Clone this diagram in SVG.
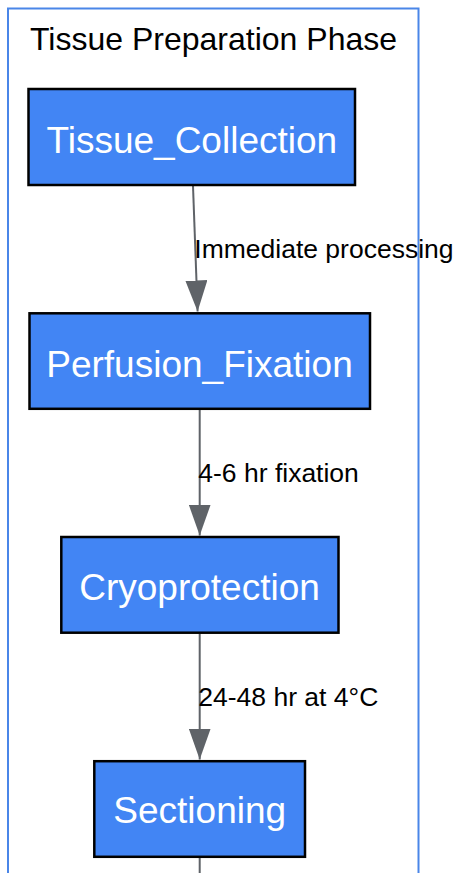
<svg xmlns="http://www.w3.org/2000/svg" width="457" height="873" viewBox="0 0 457 873">
<style>
.cluster{fill:#ffffff;stroke:#4a86e8;stroke-width:2}
.title{font-family:"Liberation Sans",Arial,sans-serif;font-size:32px;fill:#000000}
.node rect{fill:#4285f4;stroke:#000000;stroke-width:2.5}
.node text{font-family:"Liberation Sans",Arial,sans-serif;font-size:37px;fill:#ffffff;text-anchor:middle}
.edge{fill:none;stroke:#5f6368;stroke-width:2}
.elabel{font-family:"Liberation Sans",Arial,sans-serif;font-size:26.5px;fill:#000000}
</style>
<defs>
<marker id="arrow" markerUnits="userSpaceOnUse" markerWidth="31" markerHeight="22" refX="31" refY="11" orient="auto" viewBox="0 0 31 22">
<polygon points="0,0 31,11 0,22" fill="#5f6368"/>
</marker>
</defs>
<rect width="457" height="873" fill="#ffffff"/>
<g id="cluster_tissue_preparation">
<rect class="cluster" x="8" y="8.5" width="410.5" height="900"/>
<text class="title" x="30" y="50">Tissue Preparation Phase</text>
</g>
<g id="edges">
<path class="edge" d="M193,186 L197.6,311.5" marker-end="url(#arrow)"/>
<path class="edge" d="M199.7,409.5 L199.7,535.5" marker-end="url(#arrow)"/>
<path class="edge" d="M199.7,633.5 L199.7,759.5" marker-end="url(#arrow)"/>
<path class="edge" d="M199.7,857.5 L199.7,880"/>
<text class="elabel" x="194.3" y="258.3">Immediate processing</text>
<text class="elabel" x="198.3" y="481.7">4-6 hr fixation</text>
<text class="elabel" x="198.3" y="705.7">24-48 hr at 4°C</text>
</g>
<g id="Tissue_Collection" class="node">
<rect x="28.5" y="89" width="326.5" height="96"/>
<text x="191.8" y="152.7">Tissue_Collection</text>
</g>
<g id="Perfusion_Fixation" class="node">
<rect x="29.5" y="313.3" width="340.5" height="95.5"/>
<text x="199.5" y="376.7">Perfusion_Fixation</text>
</g>
<g id="Cryoprotection" class="node">
<rect x="61.3" y="537" width="277.2" height="95.7"/>
<text x="199.5" y="600">Cryoprotection</text>
</g>
<g id="Sectioning" class="node">
<rect x="94.3" y="761.2" width="210.7" height="95.6"/>
<text x="199.7" y="823.3">Sectioning</text>
</g>
</svg>
